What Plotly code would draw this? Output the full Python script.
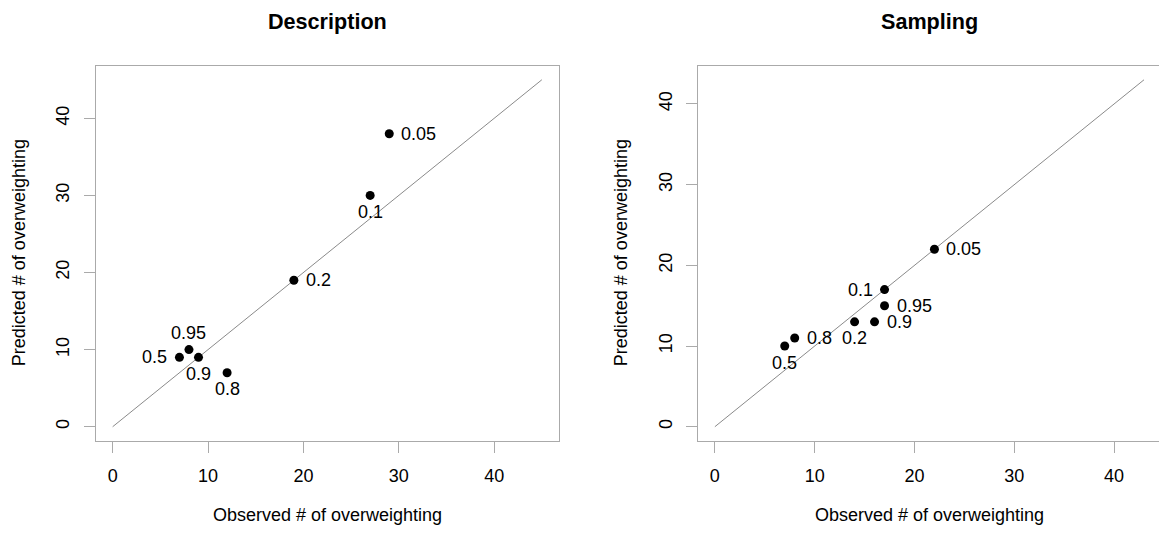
import plotly.graph_objects as go

# ---------------- data ----------------
desc_labels = ["0.05", "0.1", "0.2", "0.95", "0.5", "0.9", "0.8"]
desc_observed = [29, 27, 19, 8, 7, 9, 12]
desc_predicted = [38, 30, 19, 10, 9, 9, 7]
desc_label_side = ["right", "below", "right", "above", "left", "below", "below"]

samp_labels = ["0.05", "0.1", "0.95", "0.9", "0.2", "0.8", "0.5"]
samp_observed = [22, 17, 17, 16, 14, 8, 7]
samp_predicted = [22, 17, 15, 13, 13, 11, 10]
samp_label_side = ["right", "left", "right", "right", "below", "right", "below"]

desc_diag = [0, 45]
samp_diag = [0, 43]
tick_vals = [0, 10, 20, 30, 40]

# ---------------- layout constants ----------------
W, H = 1159, 536
FONT = "Liberation Sans, Arial, Helvetica, sans-serif"
BOX = "#aaaaaa"
DIAG = "#8a8a8a"

def px_x(p):
    return p / W

def px_y(p):
    return 1 - p / H

left_dom = [px_x(95.5), px_x(559)]
right_dom = [px_x(697.7), 1.0]
y_dom = [px_y(440.6), px_y(65.9)]

fig = go.Figure()

panels = [
    ("x", "y", desc_observed, desc_predicted, desc_labels, desc_label_side, desc_diag),
    ("x2", "y2", samp_observed, samp_predicted, samp_labels, samp_label_side, samp_diag),
]

for xr, yr, ox, py, labs, sides, diag in panels:
    fig.add_trace(go.Scatter(
        x=diag, y=diag, mode="lines", xaxis=xr, yaxis=yr,
        line=dict(color=DIAG, width=1), hoverinfo="skip", showlegend=False,
    ))
    fig.add_trace(go.Scatter(
        x=ox, y=py, mode="markers", xaxis=xr, yaxis=yr,
        marker=dict(color="black", size=9, line=dict(width=0)),
        showlegend=False,
    ))
    for xv, yv, t, s in zip(ox, py, labs, sides):
        kw = dict(x=xv, y=yv, xref=xr, yref=yr, text=t, showarrow=False,
                  borderpad=0, font=dict(family=FONT, size=18, color="black"))
        if s == "right":
            kw.update(xanchor="left", yanchor="middle", xshift=11)
        elif s == "left":
            kw.update(xanchor="right", yanchor="middle", xshift=-11)
        elif s == "above":
            kw.update(xanchor="center", yanchor="middle", yshift=16.5)
        else:
            kw.update(xanchor="center", yanchor="middle", yshift=-16.5)
        fig.add_annotation(**kw)

axis_common = dict(
    tickvals=tick_vals, ticks="outside", ticklen=11, tickwidth=1, tickcolor=BOX,
    showline=True, linecolor=BOX, linewidth=1, showgrid=False, zeroline=False,
    tickfont=dict(family=FONT, size=18, color="black"),
)

fig.update_layout(
    width=W, height=H,
    margin=dict(l=0, r=0, t=0, b=0),
    paper_bgcolor="white", plot_bgcolor="white",
    xaxis=dict(domain=left_dom, range=[-1.8, 46.8], anchor="y", mirror=True,
               ticklabelstandoff=8, **axis_common),
    yaxis=dict(domain=y_dom, range=[-1.8, 46.8], anchor="x", mirror=True, tickangle=-90,
               ticklabelstandoff=7, **axis_common),
    xaxis2=dict(domain=right_dom, range=[-1.72, 44.5], anchor="y2", mirror=True,
                ticklabelstandoff=8, **axis_common),
    yaxis2=dict(domain=y_dom, range=[-1.72, 44.72], anchor="x2", mirror=False, tickangle=-90,
                ticklabelstandoff=7, **axis_common),
)

# titles and axis titles
titles = [("Description", 327.3), ("Sampling", 929.5)]
for t, cx in titles:
    fig.add_annotation(x=px_x(cx), y=px_y(21), xref="paper", yref="paper", text="<b>%s</b>" % t,
                       showarrow=False, xanchor="center", yanchor="middle",
                       font=dict(family=FONT, size=21.6, color="black"))
for cx in [327.3, 929.5]:
    fig.add_annotation(x=px_x(cx), y=px_y(515), xref="paper", yref="paper",
                       text="Observed # of overweighting", showarrow=False,
                       xanchor="center", yanchor="middle",
                       font=dict(family=FONT, size=18, color="black"))
for cx in [19, 621]:
    fig.add_annotation(x=px_x(cx), y=px_y(253.2), xref="paper", yref="paper",
                       text="Predicted # of overweighting", showarrow=False, textangle=-90,
                       xanchor="center", yanchor="middle",
                       font=dict(family=FONT, size=18, color="black"))

fig.write_html("out.html")
